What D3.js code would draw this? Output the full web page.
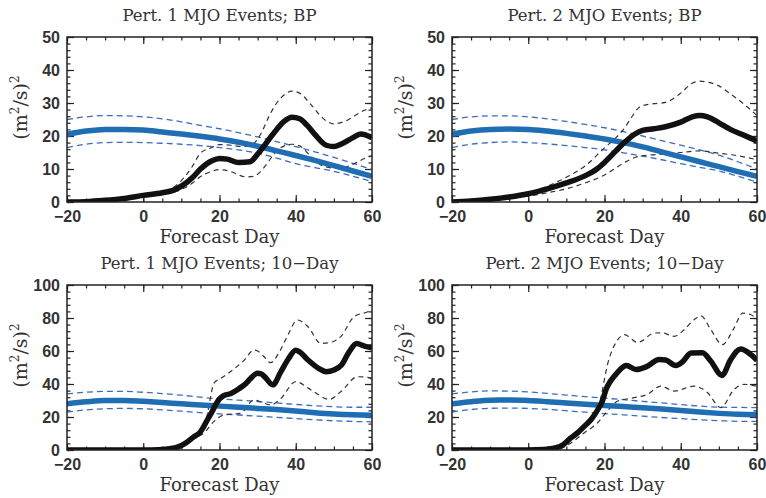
<!DOCTYPE html>
<html>
<head>
<meta charset="utf-8">
<script src="https://cdn.jsdelivr.net/npm/d3@7"></script>
<style>
  body { margin: 0; background: #fff; }
  .tick text { font-family: "Liberation Sans", Arial, sans-serif; font-weight: bold; font-size: 16px; fill: #333; }
  .tick line { stroke: #222; stroke-width: 1.2; }
  .lbl { font-family: "DejaVu Serif", serif; fill: #333; }
</style>
</head>
<body>
<div id="chart"></div>
<script>
// forecast days for the smooth blue climatology curves
const days5 = [-20, -15, -10, -5, 0, 5, 10, 15, 20, 25, 30, 35, 40, 45, 50, 55, 60];

// Pert. 1, BP
const bp1Blue   = [20.5, 21.5, 22, 22, 21.8, 21.2, 20.6, 19.9, 19.1, 18.1, 16.9, 15.5, 14.1, 12.6, 11, 9.4, 7.8];
const bp1BlueHi = [25, 25.8, 26.2, 26.1, 25.8, 25.2, 24.3, 23.2, 22.2, 21, 19.7, 18.3, 16.8, 15.2, 13.5, 11.7, 9.8];
const bp1BlueLo = [16.5, 17.5, 18, 18.1, 18, 17.8, 17.5, 17.1, 16.5, 15.8, 14.8, 13.3, 11.6, 10.4, 9.3, 7.8, 6.2];
const bp1Days   = [-20, -15, -10, -5, 0, 5, 8, 10, 13, 15, 18, 20, 22, 25, 28, 30, 33, 35, 37, 39, 41, 43, 45, 48, 50, 52, 55, 57, 60];
const bp1Black  = [0, 0.1, 0.5, 1.1, 2, 2.8, 3.6, 4.8, 7.5, 10, 12.5, 13.2, 13, 12, 12.2, 14.5, 19, 22, 24.5, 25.7, 25.2, 23.2, 20.5, 17.2, 16.8, 17.6, 19.5, 20.6, 19.5];
const bp1HiDays = [-20, -10, 0, 5, 8, 10, 13, 15, 18, 20, 23, 26, 29, 31, 33, 35, 37, 39, 41, 44, 47, 50, 53, 56, 58, 60];
const bp1Hi     = [0, 0.6, 2.2, 3.2, 4.5, 6.5, 11, 14.8, 16.5, 17.4, 17.2, 16.8, 17.8, 21, 26, 30, 32.5, 33.6, 33, 29.5, 25.5, 23.7, 24.5, 26.5, 27.8, 28.5];
const bp1LoDays = [-20, -10, 0, 5, 8, 10, 13, 15, 18, 20, 23, 25, 27, 29, 31, 33, 35, 37, 39, 41, 44, 47, 50, 53, 56, 58, 60];
const bp1Lo     = [0, 0.4, 1.8, 2.5, 3, 3.8, 5.8, 7.7, 9.3, 9.8, 9.2, 8.2, 7.6, 7.8, 9.5, 12.5, 15.5, 17, 17.5, 17, 13.8, 11, 10.3, 10.6, 12, 13.2, 14];

// Pert. 2, BP
const bp2Blue   = [20.5, 21.5, 22, 22.1, 22, 21.5, 20.8, 20, 19.1, 18, 16.7, 15.2, 13.7, 12.2, 10.7, 9.2, 7.8];
const bp2BlueHi = [25, 25.8, 26.1, 26.1, 25.8, 25.2, 24.4, 23.5, 22.5, 21.3, 20, 18.6, 17.2, 15.8, 14.2, 12.2, 10];
const bp2BlueLo = [16.5, 17.5, 18, 18.2, 18, 17.6, 17.1, 16.5, 15.8, 14.9, 13.9, 12.8, 11.6, 10.5, 9.4, 7.8, 6];
const bp2Days   = [-20, -15, -10, -5, 0, 5, 10, 15, 18, 20, 23, 25, 28, 30, 33, 36, 40, 43, 45, 47, 50, 53, 56, 60];
const bp2Black  = [0, 0.3, 0.8, 1.5, 2.5, 4, 5.8, 8, 10, 12, 15.5, 17.8, 20.6, 21.7, 22.2, 22.8, 24.2, 25.8, 26.2, 25.8, 24, 22, 20.5, 18.5];
const bp2HiDays = [-20, -10, 0, 5, 10, 15, 20, 23, 25, 27, 29, 30, 33, 36, 40, 43, 45, 47, 50, 53, 56, 60];
const bp2Hi     = [0, 0.8, 2.8, 4.8, 7.5, 11, 16.4, 19.5, 22, 25.5, 28.6, 29.2, 29.8, 30.2, 33, 36, 36.6, 36.3, 35.2, 32.8, 30.2, 26.2];
const bp2LoDays = [-20, -10, 0, 5, 10, 15, 20, 25, 28, 30, 35, 40, 45, 50, 55, 60];
const bp2Lo     = [0, 0.6, 1.8, 2.8, 4, 5.8, 8.2, 11.8, 13.5, 14, 14.5, 15, 15.5, 14.8, 14, 12.8];

// Pert. 1, 10-Day
const td1Blue   = [28, 29.2, 30, 30, 29.5, 28.8, 28, 27.3, 26.6, 25.9, 25.2, 24.5, 23.6, 22.6, 21.8, 21.3, 21.1];
const td1BlueHi = [34, 35, 35.5, 35.5, 35, 34.2, 33.2, 32, 31, 30.2, 29.4, 28.5, 27.6, 26.8, 26.2, 25.9, 25.9];
const td1BlueLo = [23, 24.3, 25, 25.2, 25, 24.3, 23.5, 22.6, 21.9, 21.2, 20.5, 19.8, 19, 18.3, 17.7, 17.3, 17.1];
const td1Days   = [-20, -10, 0, 4, 7, 9, 11, 13, 15, 17, 18, 19, 20, 21, 23, 25, 27, 28, 30, 31, 32, 34, 36, 38, 40, 41, 43, 46, 48, 50, 52, 54, 56, 58, 60];
const td1Black  = [0, 0, 0, 0.2, 0.8, 1.8, 4, 7.5, 11, 19, 23, 27.5, 31, 32.8, 34.3, 37, 40.5, 43, 46.5, 46, 44, 39.5, 47, 55, 60.5, 59.5, 55, 49.5, 47.5, 48.5, 51.5, 59.5, 64.5, 63, 62];
const td1HiDays = [-20, 0, 8, 11, 14, 15.3, 16.5, 17.5, 18.5, 20.3, 22, 24, 26.5, 29, 30, 31.5, 33.4, 35.6, 38, 40.4, 43.2, 46.6, 49.7, 51.8, 55.3, 58.9, 60];
const td1Hi     = [0, 0, 1, 4.5, 9, 12, 18, 30, 40.4, 43.4, 46, 49.5, 54.5, 60.6, 60, 57, 52.9, 59, 70, 78.8, 74.7, 64.6, 65.6, 68.7, 80.8, 83.8, 85];
const td1LoDays = [-20, 0, 8, 11, 14, 15.8, 18.5, 21.1, 25.5, 29, 31, 33.4, 36, 40, 44, 48.8, 51.8, 56.2, 58.9, 60];
const td1Lo     = [0, 0, 0.8, 3.5, 8, 10, 17.2, 21.2, 22.2, 30.3, 29, 27.3, 31, 41.4, 36.4, 30.7, 35.3, 44.4, 44, 42.8];

// Pert. 2, 10-Day
const td2Blue   = [28, 29.3, 30.2, 30.3, 30, 29.3, 28.5, 27.7, 27, 26.3, 25.6, 24.8, 24, 23, 22.2, 21.6, 21.3];
const td2BlueHi = [34, 35.2, 35.8, 35.7, 35.2, 34.3, 33.3, 32.3, 31.4, 30.5, 29.5, 28.5, 27.5, 26.6, 26, 25.8, 25.7];
const td2BlueLo = [23, 24.5, 25.3, 25.4, 25.2, 24.6, 23.8, 22.9, 22.1, 21.3, 20.5, 19.7, 19, 18.3, 17.8, 17.4, 17.3];
const td2Days   = [-20, 0, 4, 7, 9, 11, 13, 14.8, 16.5, 18.3, 19.5, 20.4, 21.5, 22.6, 24, 25.7, 28.3, 30.9, 34.4, 36, 38.7, 40.5, 42.7, 45.7, 47.9, 50.8, 53.1, 55.7, 58.4, 60];
const td2Black  = [0, 0, 0.3, 1.2, 3, 7, 10.5, 14.6, 18.5, 24.7, 30, 36.7, 41.5, 44.8, 48.5, 51.2, 48.8, 50.4, 54.8, 54.5, 51.2, 53.5, 58.8, 59, 53.8, 45.2, 54.8, 61.2, 57.8, 54.4];
const td2HiDays = [-20, 0, 8, 11, 14, 16.5, 18.7, 20.9, 23.5, 25.2, 28.7, 33.1, 35, 38.3, 40.9, 43.5, 45.3, 47.9, 50.9, 54, 56.2, 58.4, 60];
const td2Hi     = [0, 0, 1.5, 7.5, 13, 19, 28.7, 52.8, 66.9, 69.9, 65.2, 70.9, 71, 68.9, 72.9, 79, 81.3, 72.9, 63.9, 74, 82.9, 82, 78.9];
const td2LoDays = [-20, 0, 8, 11, 14.8, 18.3, 20.4, 23.5, 27.8, 31.2, 34.8, 38.3, 43.5, 47, 50.5, 54, 56.6, 60];
const td2Lo     = [0, 0, 0.8, 4, 10.6, 16.7, 22.7, 29.7, 31.7, 33.7, 38.7, 35.7, 38.7, 34.8, 25.7, 36.7, 39.8, 38.7];

const titles = ["Pert. 1 MJO Events; BP", "Pert. 2 MJO Events; BP",
                "Pert. 1 MJO Events; 10\u2212Day", "Pert. 2 MJO Events; 10\u2212Day"];
const xTicks = [-20, 0, 20, 40, 60];
const yTicksBP = [0, 10, 20, 30, 40, 50];
const yTicks10 = [0, 20, 40, 60, 80, 100];

const zip = (xs, ys) => xs.map((x, i) => [x, ys[i]]);

const panels = [
  { col: 0, row: 0, title: titles[0], ymax: 50, yTicks: yTicksBP, yMinor: 2,
    blue: bp1Blue, blueHi: bp1BlueHi, blueLo: bp1BlueLo,
    black: zip(bp1Days, bp1Black), hi: zip(bp1HiDays, bp1Hi), lo: zip(bp1LoDays, bp1Lo) },
  { col: 1, row: 0, title: titles[1], ymax: 50, yTicks: yTicksBP, yMinor: 2,
    blue: bp2Blue, blueHi: bp2BlueHi, blueLo: bp2BlueLo,
    black: zip(bp2Days, bp2Black), hi: zip(bp2HiDays, bp2Hi), lo: zip(bp2LoDays, bp2Lo) },
  { col: 0, row: 1, title: titles[2], ymax: 100, yTicks: yTicks10, yMinor: 4,
    blue: td1Blue, blueHi: td1BlueHi, blueLo: td1BlueLo,
    black: zip(td1Days, td1Black), hi: zip(td1HiDays, td1Hi), lo: zip(td1LoDays, td1Lo) },
  { col: 1, row: 1, title: titles[3], ymax: 100, yTicks: yTicks10, yMinor: 4,
    blue: td2Blue, blueHi: td2BlueHi, blueLo: td2BlueLo,
    black: zip(td2Days, td2Black), hi: zip(td2HiDays, td2Hi), lo: zip(td2LoDays, td2Lo) }
];

const W = 766, H = 498;
const colX = [67, 452], rowY = [37, 285];
const pw = 305, ph = 165;

const svg = d3.select("#chart").append("svg")
  .attr("width", W).attr("height", H)
  .style("background", "#fff");

const fmt = d => d < 0 ? "\u2212" + Math.abs(d) : d;

panels.forEach(p => {
  const g = svg.append("g").attr("transform", `translate(${colX[p.col]},${rowY[p.row]})`);
  const x = d3.scaleLinear().domain([-20, 60]).range([0, pw]);
  const y = d3.scaleLinear().domain([0, p.ymax]).range([ph, 0]);

  const xMinor = d3.range(-20, 61, 5);
  const yMinor = d3.range(0, p.ymax + 0.01, p.yMinor);

  // inward ticks on all four sides, labels only on bottom and left
  const addAxis = (axisFn, scale, ticks, size, labels, tr) => {
    const ax = g.append("g").attr("transform", tr)
      .call(axisFn(scale).tickValues(ticks).tickSize(-size)
        .tickPadding(labels ? 9 : 0).tickFormat(labels ? fmt : ""));
    ax.select(".domain").remove();
    return ax;
  };
  addAxis(d3.axisBottom, x, xMinor, 3.5, false, `translate(0,${ph})`);
  addAxis(d3.axisBottom, x, xTicks, 7, true, `translate(0,${ph})`);
  addAxis(d3.axisTop, x, xMinor, 3.5, false, "translate(0,0)");
  addAxis(d3.axisTop, x, xTicks, 7, false, "translate(0,0)");
  addAxis(d3.axisLeft, y, yMinor, 3.5, false, "translate(0,0)");
  addAxis(d3.axisLeft, y, p.yTicks, 7, true, "translate(0,0)")
    .selectAll("text").attr("x", -7);
  addAxis(d3.axisRight, y, yMinor, 3.5, false, `translate(${pw},0)`);
  addAxis(d3.axisRight, y, p.yTicks, 7, false, `translate(${pw},0)`);

  const line = d3.line().x(d => x(d[0])).y(d => y(d[1])).curve(d3.curveMonotoneX);

  const clip = "clip" + p.col + p.row;
  g.append("clipPath").attr("id", clip).append("rect").attr("width", pw).attr("height", ph);
  const plot = g.append("g").attr("clip-path", `url(#${clip})`);

  [p.blueHi, p.blueLo].forEach(s => {
    plot.append("path").attr("d", line(zip(days5, s)))
      .attr("fill", "none").attr("stroke", "#3b6cc2").attr("stroke-width", 1.3)
      .attr("stroke-dasharray", "6,4");
  });
  [p.hi, p.lo].forEach(s => {
    plot.append("path").attr("d", line(s))
      .attr("fill", "none").attr("stroke", "#333").attr("stroke-width", 1.2)
      .attr("stroke-dasharray", "5,4");
  });
  plot.append("path").attr("d", line(zip(days5, p.blue)))
    .attr("fill", "none").attr("stroke", "#1f6db3").attr("stroke-width", 5.5);
  plot.append("path").attr("d", line(p.black))
    .attr("fill", "none").attr("stroke", "#111").attr("stroke-width", 5.5)
    .attr("stroke-linejoin", "round");

  g.append("rect").attr("width", pw).attr("height", ph)
    .attr("fill", "none").attr("stroke", "#222").attr("stroke-width", 1.5);

  g.append("text").attr("class", "lbl").style("font-size", "16.5px")
    .attr("x", pw / 2).attr("y", -16).attr("text-anchor", "middle").text(p.title);
  g.append("text").attr("class", "lbl").style("font-size", "18px")
    .attr("x", pw / 2).attr("y", ph + 41).attr("text-anchor", "middle").text("Forecast Day");

  // y label (m^2/s)^2 with raised superscripts
  const yl = g.append("text").attr("class", "lbl").style("font-size", "19px")
    .attr("transform", `translate(-40,${ph / 2 - 12}) rotate(-90)`)
    .attr("text-anchor", "middle");
  yl.append("tspan").text("(m");
  yl.append("tspan").attr("dy", -8).style("font-size", "12px").text("2");
  yl.append("tspan").attr("dy", 8).text("/s)");
  yl.append("tspan").attr("dy", -8).style("font-size", "12px").text("2");
});
</script>
</body>
</html>
